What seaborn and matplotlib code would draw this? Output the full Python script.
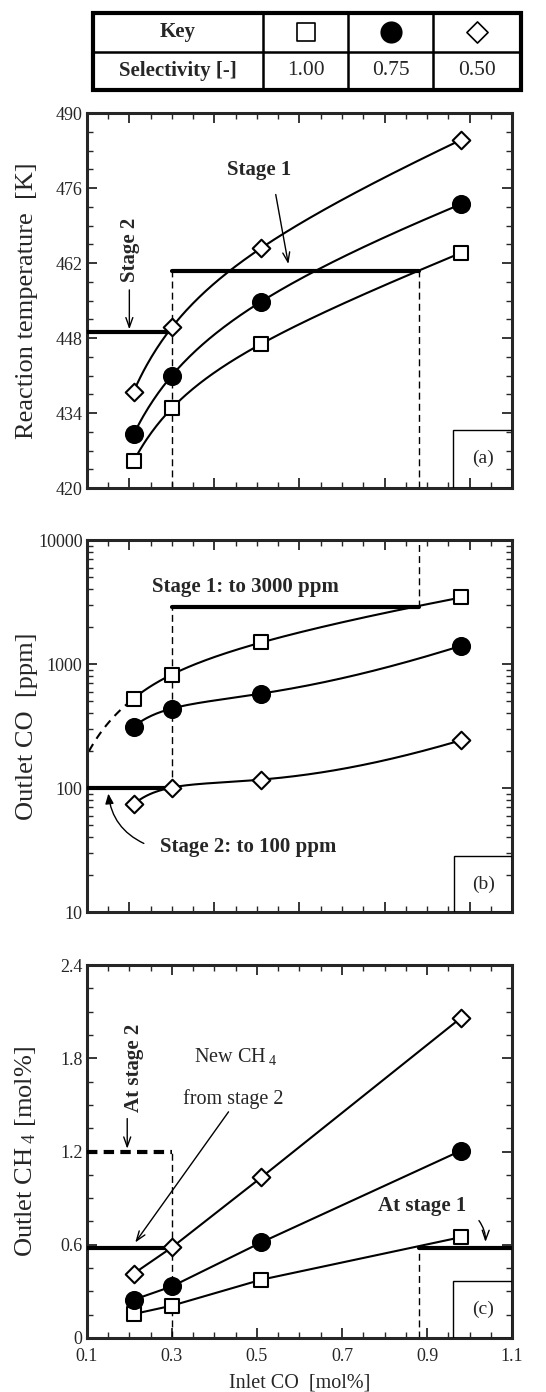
import numpy as np
import pandas as pd
import matplotlib
matplotlib.use("Agg")
import matplotlib.pyplot as plt
import seaborn as sns
from matplotlib.ticker import MultipleLocator, FixedLocator, FixedFormatter, LogLocator, NullFormatter
from matplotlib.patches import Rectangle

# ---------------- data ----------------
inlet_co = [0.21, 0.30, 0.51, 0.98]
selectivity_labels = ["1.00", "0.75", "0.50"]
temp_s100 = [425.0, 434.9, 446.9, 463.9]
temp_s075 = [430.0, 441.0, 454.8, 473.0]
temp_s050 = [438.0, 450.0, 464.8, 485.0]
co_s100 = [527, 824, 1493, 3445]
co_s075 = [312, 438, 578, 1403]
co_s050 = [74, 101, 117, 243]
ch4_s100 = [0.154, 0.208, 0.375, 0.649]
ch4_s075 = [0.246, 0.332, 0.615, 1.206]
ch4_s050 = [0.414, 0.583, 1.033, 2.061]
stage1_temp, stage2_temp = 460.6, 449.1
stage1_co, stage2_co = 2900, 100
stage1_ch4, stage2_ch4, stage2_ch4_total = 0.58, 0.58, 1.2
x_min, x_max = 0.1, 1.1
split_x, stage1_end_x = 0.30, 0.88

sns.set_style("ticks")
plt.rcParams["font.family"] = ["Liberation Serif", "DejaVu Serif"]
plt.rcParams["mathtext.fontset"] = "custom"
plt.rcParams["mathtext.rm"] = "Liberation Serif"
plt.rcParams["mathtext.it"] = "Liberation Serif:italic"

fig = plt.figure(figsize=(5.46, 13.92), dpi=100)
L, W = 0.159, 0.779
ax_a = fig.add_axes([L, 0.6494, W, 0.2694])
ax_b = fig.add_axes([L, 0.3448, W, 0.2672])
ax_c = fig.add_axes([L, 0.0388, W, 0.2679])

styles = [dict(marker="s", facecolor="white"), dict(marker="o", facecolor="black"), dict(marker="D", facecolor="white")]
sizes = [110, 150, 80]

def smooth(x, y, logy=False, xs=None, deg=3):
    lx = np.log(np.asarray(x))
    yy = np.log10(y) if logy else np.asarray(y, float)
    c = np.polyfit(lx, yy, deg)
    if xs is None:
        xs = np.linspace(x[0], x[-1], 200)
    ys = np.polyval(c, np.log(xs))
    return xs, (10 ** ys if logy else ys)

def draw_series(ax, series, curve=True, logy=False):
    for ys, st, sz in zip(series, styles, sizes):
        if curve:
            xs, yc = smooth(inlet_co, ys, logy)
            sns.lineplot(x=xs, y=yc, ax=ax, color="black", lw=1.5, zorder=3)
        else:
            sns.lineplot(x=inlet_co, y=ys, ax=ax, color="black", lw=1.5, zorder=3)
        sns.scatterplot(x=inlet_co, y=ys, ax=ax, marker=st["marker"], s=sz,
                        facecolor=st["facecolor"], edgecolor="black", linewidth=1.5, zorder=5)

def style_axes(ax):
    ax.set_xlim(x_min, x_max)
    ax.xaxis.set_major_locator(MultipleLocator(0.2))
    ax.xaxis.set_minor_locator(MultipleLocator(0.05))
    ax.tick_params(which="both", direction="in", top=True, right=True, labelsize=13)
    ax.tick_params(which="major", length=7, width=1.3)
    ax.tick_params(which="minor", length=4, width=1.0)
    ax.tick_params(axis="y", pad=3)
    ax.tick_params(axis="x", pad=7)
    for s in ax.spines.values():
        s.set_linewidth(2.2)
        s.set_visible(True)

def corner_box(ax, x0, y0, label):
    ax.add_patch(Rectangle((x0, 0), 1 - x0, y0, transform=ax.transAxes, fill=False,
                           edgecolor="black", lw=1.0, zorder=6))
    ax.text((x0 + 1) / 2, y0 / 2, label, transform=ax.transAxes, ha="center", va="center", fontsize=14)

arrow = dict(arrowstyle="->,head_length=0.7,head_width=0.25", color="black", lw=1.0)
bold = dict(fontsize=15, fontweight="bold")
YLAB_X = -0.114

# ---------------- (a) ----------------
draw_series(ax_a, [temp_s100, temp_s075, temp_s050], curve=True)
style_axes(ax_a)
ax_a.set_ylim(420, 490)
ax_a.yaxis.set_major_locator(MultipleLocator(14))
ax_a.yaxis.set_minor_locator(MultipleLocator(3.5))
ax_a.set_xticklabels([])
ax_a.set_ylabel("Reaction temperature  [K]", fontsize=19)
ax_a.yaxis.set_label_coords(YLAB_X, 0.5)
ax_a.plot([split_x, stage1_end_x], [stage1_temp, stage1_temp], color="black", lw=3, zorder=4)
ax_a.plot([x_min, split_x], [stage2_temp, stage2_temp], color="black", lw=3, zorder=4)
ax_a.plot([split_x, split_x], [420, stage1_temp], color="black", lw=1, ls=(0, (5, 3)))
ax_a.plot([stage1_end_x, stage1_end_x], [420, stage1_temp], color="black", lw=1, ls=(0, (5, 3)))
ax_a.text(0.504, 479.4, "Stage 1", ha="center", va="center", **bold)
ax_a.annotate("", xy=(0.575, 461.3), xytext=(0.543, 475.3), arrowprops=arrow)
ax_a.text(0.202, 464.5, "Stage 2", rotation=90, ha="center", va="center", **bold)
ax_a.annotate("", xy=(0.2, stage2_temp), xytext=(0.2, 457.5), arrowprops=arrow)
corner_box(ax_a, 0.861, 0.156, "(a)")

# ---------------- (b) ----------------
draw_series(ax_b, [co_s100, co_s075, co_s050], curve=True, logy=True)
style_axes(ax_b)
ax_b.set_yscale("log")
ax_b.set_ylim(10, 10000)
ax_b.yaxis.set_major_locator(FixedLocator([10, 100, 1000, 10000]))
ax_b.yaxis.set_major_formatter(FixedFormatter(["10", "100", "1000", "10000"]))
ax_b.yaxis.set_minor_locator(LogLocator(base=10, subs=np.arange(2, 10)))
ax_b.yaxis.set_minor_formatter(NullFormatter())
ax_b.set_xticklabels([])
ax_b.set_ylabel("Outlet CO  [ppm]", fontsize=19)
ax_b.yaxis.set_label_coords(YLAB_X, 0.5)
xe = np.linspace(x_min + 0.005, inlet_co[0], 50)
xe, ye = smooth(inlet_co[:3], co_s100[:3], logy=True, xs=xe, deg=2)
ax_b.plot(xe, ye, color="black", lw=1.5, ls=(0, (4, 3)))
ax_b.plot([split_x, stage1_end_x], [stage1_co, stage1_co], color="black", lw=3, zorder=4)
ax_b.plot([x_min, split_x], [stage2_co, stage2_co], color="black", lw=3, zorder=4)
ax_b.plot([split_x, split_x], [stage2_co, stage1_co], color="black", lw=1, ls=(0, (5, 3)))
ax_b.plot([stage1_end_x, stage1_end_x], [stage1_co, 10000], color="black", lw=1, ls=(0, (5, 3)))
ax_b.text(0.253, 4150, "Stage 1: to 3000 ppm", ha="left", va="center", **bold)
ax_b.text(0.273, 33.5, "Stage 2: to 100 ppm", ha="left", va="center", **bold)
ax_b.annotate("", xy=(0.15, 95), xytext=(0.24, 35),
              arrowprops=dict(arrowstyle="-|>,head_length=0.6,head_width=0.25", color="black", lw=1.0,
                              connectionstyle="arc3,rad=-0.3"))
corner_box(ax_b, 0.864, 0.150, "(b)")

# ---------------- (c) ----------------
draw_series(ax_c, [ch4_s100, ch4_s075, ch4_s050], curve=False)
style_axes(ax_c)
ax_c.set_ylim(0, 2.4)
ax_c.yaxis.set_major_locator(MultipleLocator(0.6))
ax_c.yaxis.set_minor_locator(MultipleLocator(0.15))
ax_c.set_yticks([0, 0.6, 1.2, 1.8, 2.4])
ax_c.set_yticklabels(["0", "0.6", "1.2", "1.8", "2.4"])
ax_c.set_xticks([0.1, 0.3, 0.5, 0.7, 0.9, 1.1])
ax_c.set_xticklabels(["0.1", "0.3", "0.5", "0.7", "0.9", "1.1"])
ax_c.set_xlabel("Inlet CO  [mol%]", fontsize=14.5, labelpad=6)
ax_c.set_ylabel("Outlet CH$_{\\ 4}$ [mol%]", fontsize=19)
ax_c.yaxis.set_label_coords(YLAB_X, 0.5)
ax_c.plot([x_min, split_x], [stage2_ch4, stage2_ch4], color="black", lw=3, zorder=4)
ax_c.plot([stage1_end_x, x_max], [stage1_ch4, stage1_ch4], color="black", lw=3, zorder=4)
ax_c.plot([x_min, split_x], [stage2_ch4_total, stage2_ch4_total], color="black", lw=3, ls=(0, (2.5, 1.5)), zorder=4)
ax_c.plot([split_x, split_x], [0, stage2_ch4_total], color="black", lw=1, ls=(0, (5, 3)))
ax_c.plot([stage1_end_x, stage1_end_x], [0, stage1_ch4], color="black", lw=1, ls=(0, (5, 3)))
ax_c.text(0.21, 1.74, "At stage 2", rotation=90, ha="center", va="center", **bold)
ax_c.annotate("", xy=(0.195, stage2_ch4_total), xytext=(0.195, 1.43), arrowprops=arrow)
ax_c.text(0.449, 1.81, "New CH$_{\\ 4}$", ha="center", va="center", fontsize=14.5)
ax_c.text(0.445, 1.536, "from stage 2", ha="center", va="center", fontsize=14.5)
ax_c.annotate("", xy=(0.21, 0.60), xytext=(0.437, 1.47), arrowprops=arrow)
ax_c.text(0.888, 0.851, "At stage 1", ha="center", va="center", **bold)
ax_c.annotate("", xy=(1.037, 0.60), xytext=(1.018, 0.77),
              arrowprops=dict(arrowstyle="->,head_length=0.7,head_width=0.25", color="black", lw=1.0,
                              connectionstyle="arc3,rad=-0.2"))
corner_box(ax_c, 0.861, 0.152, "(c)")

# ---------------- key table ----------------
t_left, t_right, t_top, t_bot = 93, 521, 13, 90
tx = fig.add_axes([t_left / 546, 1 - t_bot / 1392, (t_right - t_left) / 546, (t_bot - t_top) / 1392])
tx.set_xlim(0, 1)
tx.set_ylim(0, 1)
tx.axis("off")
bounds = [0, (263 - t_left) / (t_right - t_left), (348 - t_left) / (t_right - t_left),
          (433 - t_left) / (t_right - t_left), 1.0]
tx.add_patch(Rectangle((0, 0), 1, 1, fill=False, lw=3.0, edgecolor="black", clip_on=False))
tx.plot([0, 1], [0.5, 0.5], color="black", lw=1.8)
for b in bounds[1:-1]:
    tx.plot([b, b], [0, 1], color="black", lw=1.8)
tx.text(bounds[1] / 2, 0.75, "Key", ha="center", va="center", fontsize=15, fontweight="bold")
tx.text(bounds[1] / 2, 0.25, "Selectivity [-]", ha="center", va="center", fontsize=15, fontweight="bold")
for i, (lab, st, sz) in enumerate(zip(selectivity_labels, styles, sizes)):
    cx = (bounds[i + 1] + bounds[i + 2]) / 2
    tx.scatter([cx], [0.75], marker=st["marker"], s=sz * 1.45, facecolor=st["facecolor"],
               edgecolor="black", linewidth=1.2)
    tx.text(cx, 0.25, lab, ha="center", va="center", fontsize=15.5)

fig.savefig("out.png", dpi=100)
